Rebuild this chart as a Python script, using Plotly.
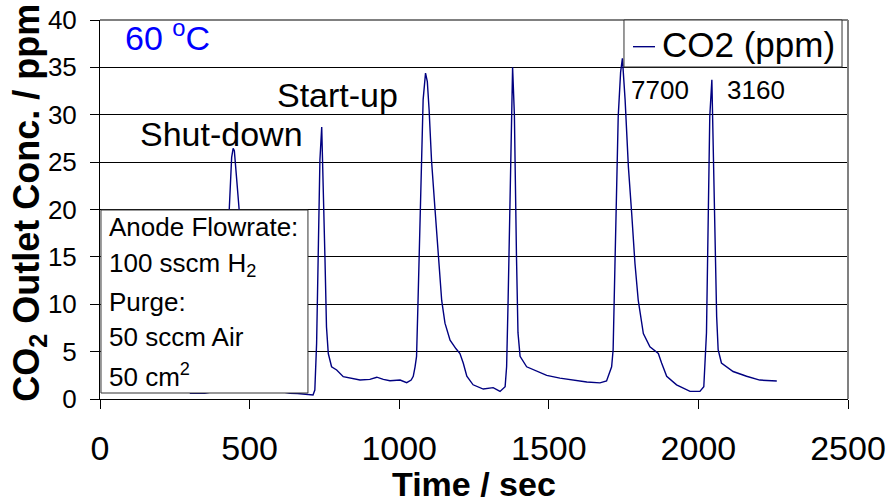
import plotly.graph_objects as go

# CO2 outlet concentration during shut-down / start-up cycles at 60 C
time_s = [300, 350, 400, 420, 432, 440, 445, 449, 456, 465, 478, 495, 520, 560, 600,
          635, 660, 695, 712, 718, 724, 730, 735, 741, 746, 752, 757, 763, 774, 791,
          813, 836, 869, 902, 925, 947, 969, 1003, 1025, 1040, 1047, 1053, 1058, 1063,
          1070, 1075, 1080, 1088, 1094, 1100, 1108, 1120, 1131, 1142, 1153, 1170, 1190,
          1203, 1214, 1226, 1247, 1281, 1314, 1337, 1354, 1359, 1364, 1370, 1374, 1379,
          1385, 1387, 1392, 1397, 1404, 1426, 1448, 1493, 1537, 1582, 1627, 1671, 1693,
          1710, 1715, 1721, 1727, 1732, 1740, 1746, 1755, 1766, 1777, 1788, 1799, 1816,
          1838, 1866, 1877, 1894, 1927, 1972, 2005, 2018, 2027, 2033, 2038, 2045, 2050,
          2055, 2061, 2066, 2077, 2116, 2161, 2205, 2262]
co2_ppm = [0.6, 0.6, 0.9, 6.0, 20.0, 25.5, 26.45, 26.2, 23.5, 20.0, 10.0, 3.0, 1.5, 1.0, 0.8,
           0.6, 0.58, 0.5, 0.42, 0.95, 5.9, 16.4, 25.2, 28.7, 23.5, 14.7, 7.6, 4.8, 3.4, 3.06,
           2.35, 2.2, 2.0, 2.07, 2.3, 2.07, 1.93, 2.0, 1.72, 2.0, 2.4, 3.4, 4.5, 10.4,
           18.5, 25.6, 31.6, 34.4, 33.5, 30.5, 25.2, 19.9, 15.0, 10.4, 8.0, 6.2, 5.3,
           4.8, 3.8, 2.4, 1.5, 1.05, 1.2, 0.8, 1.3, 3.4, 10.4, 21.0, 30.0, 35.0,
           30.0, 24.5, 15.0, 7.0, 4.5, 3.4, 3.1, 2.5, 2.2, 2.0, 1.8, 1.7, 1.9,
           3.4, 5.2, 14.0, 22.8, 29.8, 34.5, 35.95, 31.6, 24.5, 19.6, 14.3, 10.4, 6.9,
           5.5, 4.8, 3.8, 2.4, 1.5, 0.8, 0.8, 1.3, 7.0, 21.0, 29.8, 33.7, 24.5,
           15.7, 8.7, 5.2, 3.8, 2.9, 2.4, 2.0, 1.9]

x_ticks = [0, 500, 1000, 1500, 2000, 2500]
y_ticks = [0, 5, 10, 15, 20, 25, 30, 35, 40]

info_lines = ["Anode Flowrate:", "100 sscm H<sub>2</sub>", "Purge:",
              "50 sccm Air", "50 cm<sup>2</sup>"]
peak_notes = ["7700", "3160"]
series_name = "CO2 (ppm)"

FONT = "Liberation Sans, Arial, sans-serif"
LINE_COLOR = "#000080"

fig = go.Figure()
fig.add_trace(go.Scatter(x=time_s, y=co2_ppm, mode="lines", name=series_name,
                         line=dict(color=LINE_COLOR, width=1.4)))

fig.update_layout(
    width=886, height=498, autosize=False,
    margin=dict(l=100, r=38, t=20, b=99),
    paper_bgcolor="white", plot_bgcolor="white",
    font=dict(family=FONT, color="black"),
    showlegend=False,
    xaxis=dict(range=[0, 2500], tickvals=x_ticks, ticks="outside", ticklen=9,
               tickcolor="black", showline=True, linecolor="black", linewidth=1,
               showgrid=False, zeroline=False, automargin=False,
               tickfont=dict(size=34, family=FONT), ticklabelstandoff=10),
    yaxis=dict(range=[0, 40], tickvals=y_ticks, ticks="outside", ticklen=9,
               tickcolor="black", showline=True, linecolor="black", linewidth=1,
               showgrid=True, gridcolor="black", gridwidth=1, zeroline=False,
               automargin=False,
               tickfont=dict(size=26, family=FONT), ticklabelstandoff=8),
)

# plot-area frame (top and right) in grey
fig.add_shape(type="line", xref="paper", yref="paper", x0=0, x1=1, y0=1, y1=1,
              line=dict(color="#808080", width=2))
fig.add_shape(type="line", xref="paper", yref="paper", x0=1, x1=1, y0=0, y1=1,
              line=dict(color="#808080", width=2))

# legend box with a short line sample
fig.add_shape(type="rect", xref="paper", yref="paper", x0=0.7005, x1=0.992,
              y0=0.876, y1=1.0, fillcolor="white", layer="above",
              line=dict(color="#333333", width=1))
fig.add_shape(type="line", xref="paper", yref="paper", x0=0.7126, x1=0.7420,
              y0=0.9296, y1=0.9296, layer="above",
              line=dict(color=LINE_COLOR, width=1.4))
fig.add_annotation(text=series_name, xref="paper", yref="paper", x=0.7480, y=0.935,
                   xanchor="left", yanchor="middle", showarrow=False,
                   font=dict(size=35, family=FONT, color="black"))

# conditions box
fig.add_shape(type="rect", xref="paper", yref="paper", x0=0.0013, x1=0.278,
              y0=0.0158, y1=0.4987, fillcolor="white", layer="above",
              line=dict(color="#333333", width=1))

info_y = [0.4528, 0.3544, 0.2549, 0.1625, 0.0615]
for txt, yy in zip(info_lines, info_y):
    fig.add_annotation(text=txt, xref="paper", yref="paper", x=0.009, y=yy,
                       xanchor="left", yanchor="middle", showarrow=False,
                       font=dict(size=26, family=FONT, color="black"))

# axis titles
fig.add_annotation(text="<b>Time / sec</b>", xref="paper", yref="paper",
                   x=0.5, y=-0.2243, xanchor="center", yanchor="middle",
                   showarrow=False, font=dict(size=34, family=FONT))
fig.add_annotation(text="<b>CO<sub>2</sub> Outlet Conc. / ppm</b>", xref="paper",
                   yref="paper", x=-0.0949, y=0.518, xanchor="center",
                   yanchor="middle", textangle=-90, showarrow=False,
                   font=dict(size=36, family=FONT))

# labels inside the plot
fig.add_annotation(text="60 <sup>o</sup>C", xref="paper", yref="paper",
                   x=0.0307, y=0.959, xanchor="left", yanchor="middle",
                   showarrow=False, font=dict(size=34, family=FONT, color="#0000FF"))
fig.add_annotation(text="Shut-down", xref="paper", yref="paper",
                   x=0.0508, y=0.7005, xanchor="left", yanchor="middle",
                   showarrow=False, font=dict(size=34, family=FONT))
fig.add_annotation(text="Start-up", xref="paper", yref="paper",
                   x=0.234, y=0.8034, xanchor="left", yanchor="middle",
                   showarrow=False, font=dict(size=34, family=FONT))
for txt, xx in zip(peak_notes, [0.7072, 0.8356]):
    fig.add_annotation(text=txt, xref="paper", yref="paper",
                       x=xx, y=0.8166, xanchor="left", yanchor="middle",
                       showarrow=False, font=dict(size=26, family=FONT))

fig.write_html("out.html")
